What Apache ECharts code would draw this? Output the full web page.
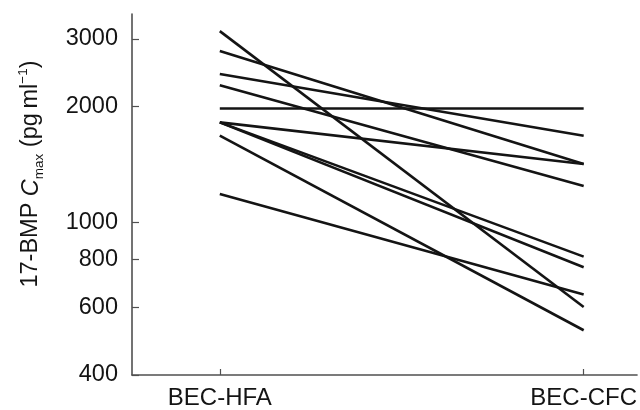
<!DOCTYPE html>
<html>
<head>
<meta charset="utf-8">
<script src="https://cdn.jsdelivr.net/npm/echarts@6/dist/echarts.min.js"></script>
<style>html,body{margin:0;padding:0;background:#fff}#c{width:640px;height:410px}</style>
</head>
<body>
<div id="c"></div>
<script>
var categories = ['BEC-HFA', 'BEC-CFC'];
var hfaValues = [3141, 2787, 2430, 2272, 1976, 1818, 1818, 1818, 1680, 1184];
var cfcValues = [601, 1416, 1677, 1241, 1976, 1416, 813, 763, 523, 648];
var yTickValues = [400, 600, 800, 1000, 2000, 3000];

var FONT = '"Liberation Sans", Arial, Helvetica, sans-serif';
var series = hfaValues.map(function (v, i) {
  return {
    type: 'line',
    data: [[0, v], [1, cfcValues[i]]],
    symbol: 'none',
    lineStyle: { color: '#141414', width: 2.6 },
    silent: true,
    animation: false
  };
});

var chart = echarts.init(document.getElementById('c'), null, { renderer: 'canvas' });
chart.setOption({
  animation: false,
  backgroundColor: '#ffffff',
  grid: { left: 132, right: 0, top: 14, bottom: 33.3, containLabel: false },
  xAxis: {
    type: 'value',
    min: -0.2413,
    max: 1.1467,
    axisLine: { show: true, onZero: false, lineStyle: { color: '#505050', width: 1.6 } },
    axisTick: { show: true, inside: true, length: 6, customValues: [0, 1], lineStyle: { color: '#505050', width: 1.2 } },
    axisLabel: {
      customValues: [0, 1],
      formatter: function (v) { return categories[Math.round(v)]; },
      color: '#141414', fontFamily: FONT, fontSize: 24, margin: 11
    },
    splitLine: { show: false }
  },
  yAxis: {
    type: 'log',
    logBase: 10,
    min: 400,
    max: 3480,
    axisLine: { show: true, onZero: false, lineStyle: { color: '#505050', width: 1.6 } },
    axisTick: { show: true, inside: true, length: 7, customValues: yTickValues, lineStyle: { color: '#505050', width: 1.2 } },
    axisLabel: {
      customValues: yTickValues,
      formatter: function (v) { return String(Math.round(v)); },
      color: '#141414', fontFamily: FONT, fontSize: 23.5, margin: 14
    },
    splitLine: { show: false }
  },
  graphic: [{
    type: 'text',
    x: 31,
    y: 174,
    rotation: Math.PI / 2,
    style: {
      text: '{n|17-BMP }{i|C}{sub|max}{n| (pg\u2009ml}{sup|\u22121}{n|)}',
      align: 'center',
      verticalAlign: 'middle',
      fill: '#141414',
      font: '23.5px ' + FONT,
      rich: {
        n: { fontFamily: FONT, fontSize: 23.5, fill: '#141414', lineHeight: 30, verticalAlign: 'middle' },
        i: { fontFamily: FONT, fontSize: 23.5, fontStyle: 'italic', fill: '#141414', lineHeight: 30, verticalAlign: 'middle' },
        sub: { fontFamily: FONT, fontSize: 13.5, fill: '#141414', lineHeight: 30, verticalAlign: 'bottom' },
        sup: { fontFamily: FONT, fontSize: 13.5, fill: '#141414', lineHeight: 30, verticalAlign: 'top' }
      }
    }
  }],
  series: series
});
</script>
</body>
</html>
